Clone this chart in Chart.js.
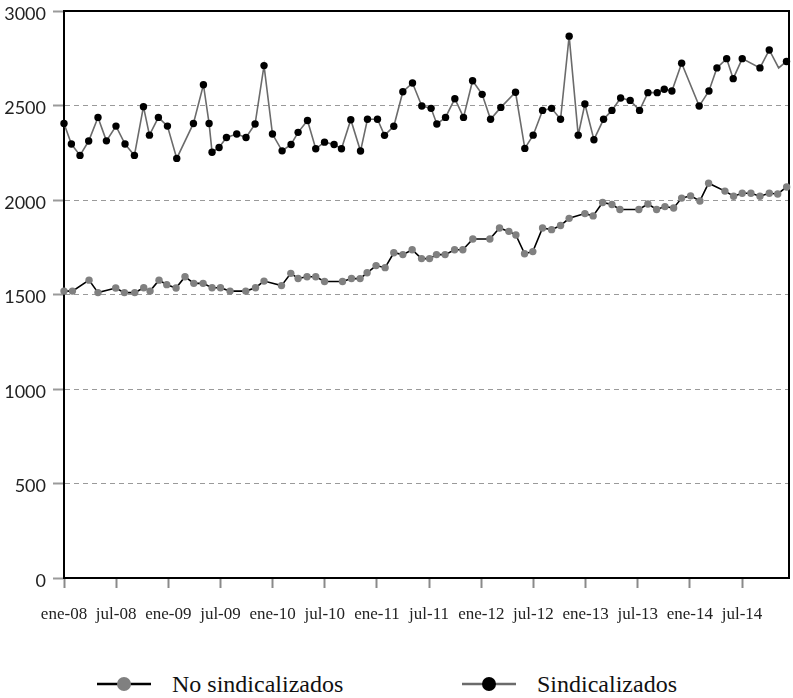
<!DOCTYPE html>
<html>
<head>
<meta charset="utf-8">
<script src="https://cdn.jsdelivr.net/npm/chart.js@4/dist/chart.umd.min.js"></script>
<style>
  html, body { margin: 0; padding: 0; background: #fff; }
  #wrap { position: relative; width: 793px; height: 698px; }
  #box { position: absolute; left: 0; top: 0; width: 793px; height: 645px; }
  .leg { position: absolute; top: 670px; height: 28px; display: flex; align-items: center;
         font-family: "Liberation Serif", serif; font-size: 24px; color: #111; white-space: nowrap; }
  .leg svg { margin-right: 21px; }
</style>
</head>
<body>
<div id="wrap">
  <div id="box"><canvas id="c"></canvas></div>
  <div class="leg" style="left:97px">
    <svg width="54" height="16"><line x1="0" y1="8" x2="54" y2="8" stroke="#000" stroke-width="2.5"/><circle cx="27" cy="8" r="7" fill="#808080"/></svg><span>No sindicalizados</span>
  </div>
  <div class="leg" style="left:462px">
    <svg width="54" height="16"><line x1="0" y1="8" x2="54" y2="8" stroke="#6b6b6b" stroke-width="2.5"/><circle cx="27" cy="8" r="7" fill="#000"/></svg><span>Sindicalizados</span>
  </div>
</div>
<script>
// x values: months elapsed since January 2008 (0 = ene-08)
const seriesNames = ["No sindicalizados", "Sindicalizados"];

const noSindMonths = [0.00, 0.97, 2.88, 3.91, 5.95, 6.95, 8.14, 9.17, 9.90, 10.93, 11.82, 12.89, 13.92, 14.93, 16.00,
  17.03, 18.00, 19.10, 20.91, 22.03, 23.01, 25.02, 26.09, 26.93, 27.96, 28.96, 29.97, 32.04, 33.07, 34.06,
  34.87, 35.90, 36.94, 37.94, 38.98, 40.05, 41.13, 42.05, 42.85, 43.84, 44.93, 45.88, 47.03, 48.99, 50.10,
  51.17, 51.98, 52.98, 53.93, 55.05, 56.09, 57.12, 58.11, 59.92, 60.87, 61.96, 63.03, 63.95, 66.13, 67.17,
  68.17, 69.13, 70.13, 71.05, 72.08, 73.15, 74.15, 76.03, 77.03, 78.02, 79.02, 80.06, 81.13, 82.10, 83.13];
const noSindValues = [1518, 1518, 1576, 1510, 1534, 1510, 1510, 1536, 1518, 1576, 1552, 1534, 1594, 1559, 1559,
  1536, 1536, 1518, 1518, 1536, 1571, 1547, 1612, 1585, 1594, 1594, 1569, 1569, 1585, 1584,
  1615, 1653, 1642, 1721, 1711, 1737, 1690, 1690, 1711, 1711, 1737, 1737, 1794, 1794, 1852,
  1834, 1815, 1716, 1727, 1852, 1843, 1865, 1903, 1928, 1916, 1987, 1976, 1950, 1950, 1979,
  1950, 1965, 1958, 2010, 2022, 1995, 2089, 2047, 2020, 2036, 2036, 2020, 2036, 2032, 2069];

const sindMonths = [0.00, 0.85, 1.84, 2.84, 3.91, 4.88, 5.98, 7.02, 8.10, 9.14, 9.83, 10.86, 11.90, 12.97, 14.89,
  16.04, 16.69, 17.03, 17.84, 18.69, 19.87, 20.94, 21.98, 23.01, 23.98, 25.09, 26.12, 26.93, 28.01, 28.96,
  29.97, 31.07, 31.92, 32.99, 34.11, 34.91, 36.06, 36.87, 37.94, 38.98, 40.09, 41.16, 42.23, 42.89, 43.89,
  44.96, 45.96, 47.00, 48.10, 49.07, 50.25, 51.94, 53.01, 53.97, 55.05, 56.09, 57.12, 58.11, 59.15, 59.92,
  60.96, 62.07, 63.03, 64.03, 65.13, 66.21, 67.17, 68.24, 69.05, 69.93, 71.05, 73.07, 74.19, 75.11, 76.23,
  76.98, 78.02, 80.06, 81.13, 82.21, 83.11];
const sindValues = [2405, 2296, 2236, 2312, 2437, 2313, 2391, 2296, 2236, 2494, 2343, 2437, 2391, 2220, 2405,
  2610, 2405, 2253, 2278, 2331, 2349, 2331, 2402, 2711, 2349, 2260, 2294, 2358, 2421, 2271,
  2306, 2294, 2271, 2425, 2259, 2427, 2427, 2342, 2390, 2573, 2619, 2497, 2485, 2402, 2437,
  2536, 2437, 2631, 2559, 2427, 2490, 2570, 2273, 2343, 2474, 2485, 2427, 2867, 2343, 2508,
  2319, 2427, 2474, 2540, 2527, 2474, 2568, 2568, 2586, 2577, 2724, 2497, 2577, 2699, 2748,
  2642, 2748, 2699, 2794, 2699, 2733];
// index of the Sindicalizados observation drawn without a marker in the original
const sindNoMarker = [79];

const tickMonths = [0, 6, 12, 18, 24, 30, 36, 42, 48, 54, 60, 66, 72, 78];
const monthAbbr = ["ene", "jul"];
const yTicks = [0, 500, 1000, 1500, 2000, 2500, 3000];

function tickLabel(m) {
  const yy = 8 + Math.floor(m / 12);
  return monthAbbr[(m % 12) === 0 ? 0 : 1] + "-" + String(yy).padStart(2, "0");
}

const boxPlugin = {
  id: "boxPlugin",
  beforeDatasetsDraw(chart) {
    const a = chart.chartArea, ctx = chart.ctx;
    ctx.save();
    ctx.strokeStyle = "#000";
    ctx.lineWidth = 2;
    ctx.beginPath();
    ctx.moveTo(a.left, a.top);
    ctx.lineTo(a.right, a.top);
    ctx.lineTo(a.right, a.bottom);
    ctx.stroke();
    ctx.restore();
  }
};

new Chart(document.getElementById("c"), {
  type: "line",
  data: {
    datasets: [
      {
        label: seriesNames[0],
        data: noSindMonths.map((m, i) => ({ x: m, y: noSindValues[i] })),
        borderColor: "#000",
        borderWidth: 1.6,
        pointBackgroundColor: "#808080",
        pointBorderColor: "#808080",
        pointBorderWidth: 0,
        pointRadius: 3.7,
        tension: 0,
        clip: false
      },
      {
        label: seriesNames[1],
        data: sindMonths.map((m, i) => ({ x: m, y: sindValues[i] })),
        borderColor: "#6b6b6b",
        borderWidth: 1.6,
        pointBackgroundColor: "#000",
        pointBorderColor: "#000",
        pointBorderWidth: 0,
        pointRadius: sindMonths.map((m, i) => sindNoMarker.includes(i) ? 0 : 3.7),
        tension: 0,
        clip: false
      }
    ]
  },
  options: {
    responsive: true,
    maintainAspectRatio: false,
    animation: false,
    devicePixelRatio: 1,
    layout: { padding: { top: 11, right: 4, left: 0, bottom: 0 } },
    plugins: { legend: { display: false }, tooltip: { enabled: false } },
    scales: {
      x: {
        type: "linear",
        min: 0,
        max: 83.4,
        afterBuildTicks: s => { s.ticks = tickMonths.map(v => ({ value: v })); },
        afterFit: s => { s.height = 67; s.paddingLeft = 0; s.paddingRight = 0; },
        ticks: {
          callback: v => tickLabel(v),
          autoSkip: false,
          maxRotation: 0,
          padding: 16,
          color: "#222",
          font: { family: "Liberation Serif", size: 17 }
        },
        grid: { drawOnChartArea: false, drawTicks: true, tickLength: 10, tickColor: "#8a8a8a", tickWidth: 2 },
        border: { display: true, color: "#000", width: 2 }
      },
      y: {
        min: 0,
        max: 3000,
        afterBuildTicks: s => { s.ticks = yTicks.map(v => ({ value: v })); },
        afterFit: s => { s.width = 64; s.paddingTop = 0; s.paddingBottom = 0; },
        ticks: {
          callback: v => String(v),
          padding: 7,
          labelOffset: 3,
          color: "#222",
          font: { family: "Lato", size: 18 }
        },
        grid: { color: "#9a9a9a", lineWidth: 1, tickLength: 11, tickColor: "#9a9a9a", tickWidth: 2 },
        border: { display: true, color: "#000", width: 2, dash: [5, 4] }
      }
    }
  },
  plugins: [boxPlugin]
});
</script>
</body>
</html>
